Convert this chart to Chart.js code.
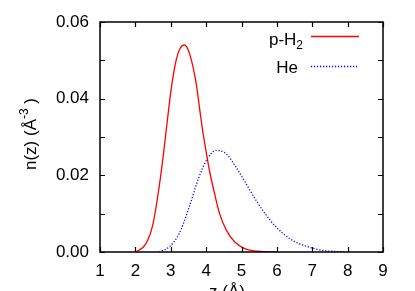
<!DOCTYPE html>
<html>
<head>
<meta charset="utf-8">
<script src="https://cdn.jsdelivr.net/npm/chart.js@4/dist/chart.umd.min.js"></script>
<style>
html,body{margin:0;padding:0;background:#fff;overflow:hidden;}
canvas{display:block;}
</style>
</head>
<body>
<canvas id="c" width="415" height="291"></canvas>
<script>
// ---- data ----
const h2Z = [2.02, 2.30, 2.49, 2.64, 2.78, 2.90, 3.02, 3.14, 3.26, 3.39, 3.54, 3.72, 3.81, 3.90, 4.00, 4.10, 4.24, 4.38, 4.57, 4.81, 5.09, 5.47, 6.00];
const h2N = [0.0000, 0.0022, 0.0070, 0.0150, 0.0245, 0.0340, 0.0430, 0.0495, 0.0530, 0.0540, 0.0515, 0.0439, 0.0378, 0.0318, 0.0262, 0.0210, 0.0152, 0.0100, 0.0057, 0.0026, 0.0009, 0.0002, 0.0000];
const heZ = [2.67, 2.95, 3.24, 3.52, 3.80, 4.04, 4.28, 4.56, 4.84, 5.13, 5.41, 5.70, 5.98, 6.36, 6.83, 7.31, 7.78, 7.95];
const heN = [0.0000, 0.0013, 0.0048, 0.0117, 0.0196, 0.0244, 0.0265, 0.0257, 0.0222, 0.0178, 0.0135, 0.0096, 0.0065, 0.0035, 0.0015, 0.0004, 0.0001, 0.0000];
const seriesNames = ['p-H2', 'He'];
const xTicks = [1, 2, 3, 4, 5, 6, 7, 8, 9];
const yTicks = [0, 0.01, 0.02, 0.03, 0.04, 0.05, 0.06];
const yLabeled = [0, 0.02, 0.04, 0.06];

const FONT = '"Liberation Sans", Arial, Helvetica, sans-serif';
const FS = 17;

function pts(xs, ys){ return xs.map((x,i)=>({x:x, y:ys[i]})); }

function drawParts(ctx, parts, x, y, align){
  const base = FS + 'px ' + FONT, small = '12px ' + FONT;
  let w = 0;
  parts.forEach(p=>{ ctx.font = (p.sub||p.sup)? small: base; w += ctx.measureText(p.t).width; });
  let cx = align==='right' ? x - w : (align==='center' ? x - w/2 : x);
  ctx.textAlign = 'left'; ctx.textBaseline = 'alphabetic';
  parts.forEach(p=>{
    ctx.font = (p.sub||p.sup)? small: base;
    const dy = p.sub ? 4 : (p.sup ? -8 : 0);
    ctx.fillText(p.t, cx, y + dy);
    cx += ctx.measureText(p.t).width;
  });
}

const decor = {
  id: 'decor',
  afterDraw(chart){
    const ctx = chart.ctx;
    const {left, right, top, bottom} = chart.chartArea;
    const xs = chart.scales.x, ys = chart.scales.y;
    ctx.save();
    ctx.strokeStyle = '#000';
    ctx.lineWidth = 1.5;
    ctx.strokeRect(left, top, right-left, bottom-top);
    ctx.lineWidth = 1.2;
    ctx.beginPath();
    xTicks.forEach(v=>{
      const px = Math.round(xs.getPixelForValue(v)) + 0.5;
      ctx.moveTo(px, bottom); ctx.lineTo(px, bottom-5);
      ctx.moveTo(px, top); ctx.lineTo(px, top+5);
    });
    yTicks.forEach(v=>{
      const py = Math.round(ys.getPixelForValue(v)) + 0.5;
      ctx.moveTo(left, py); ctx.lineTo(left+5, py);
      ctx.moveTo(right, py); ctx.lineTo(right-5, py);
    });
    ctx.stroke();

    // legend
    const ds = chart.data.datasets;
    const rows = [{text:[{t:'p-H'},{t:'2',sub:true}], tx:303, ty:45, ly:36},
                  {text:[{t:'He'}], tx:298, ty:72.5, ly:66}];
    rows.forEach((r,i)=>{
      ctx.fillStyle = '#000';
      drawParts(ctx, r.text, r.tx, r.ty, 'right');
      ctx.strokeStyle = ds[i].borderColor;
      ctx.lineWidth = ds[i].borderWidth;
      ctx.setLineDash(ds[i].borderDash || []);
      ctx.beginPath();
      ctx.moveTo(311, r.ly + 0.5); ctx.lineTo(359, r.ly + 0.5);
      ctx.stroke();
      ctx.setLineDash([]);
    });

    // axis titles
    ctx.fillStyle = '#000';
    ctx.save();
    ctx.translate(36, 134);
    ctx.rotate(-Math.PI/2);
    drawParts(ctx, [{t:'n(z) (Å'},{t:'-3',sup:true},{t:' )'}], 0, 0, 'center');
    ctx.restore();
    drawParts(ctx, [{t:'z (Å)'}], 227, 297, 'center');
    ctx.restore();
  }
};

new Chart(document.getElementById('c'), {
  type: 'line',
  data: {
    datasets: [
      { label: seriesNames[0], data: pts(h2Z, h2N), borderColor: '#ff0000', borderWidth: 1.3,
        pointRadius: 0, cubicInterpolationMode: 'monotone', fill: false },
      { label: seriesNames[1], data: pts(heZ, heN), borderColor: '#0000ff', borderWidth: 1.3,
        borderDash: [1.2, 1.8], pointRadius: 0, cubicInterpolationMode: 'monotone', fill: false }
    ]
  },
  options: {
    responsive: false,
    devicePixelRatio: 1,
    animation: false,
    layout: { padding: { top: 22, right: 32, left: 0, bottom: 0 } },
    plugins: { legend: { display: false }, tooltip: { enabled: false } },
    scales: {
      x: {
        type: 'linear', min: 1, max: 9,
        afterFit(s){ s.height = 39; },
        afterBuildTicks(s){ s.ticks = xTicks.map(v=>({value:v})); },
        grid: { display: false, drawTicks: false },
        border: { display: false },
        ticks: { color: '#000', font: { family: FONT, size: FS }, padding: 9, maxRotation: 0,
                 callback: v => String(v) }
      },
      y: {
        type: 'linear', min: 0, max: 0.06,
        afterFit(s){ s.width = 100; },
        afterBuildTicks(s){ s.ticks = yTicks.map(v=>({value:v})); },
        grid: { display: false, drawTicks: false },
        border: { display: false },
        ticks: { color: '#000', font: { family: FONT, size: FS }, padding: 11,
                 callback: v => yLabeled.some(t=>Math.abs(t-v)<1e-9) ? v.toFixed(2) : '' }
      }
    }
  },
  plugins: [decor]
});
</script>
</body>
</html>
